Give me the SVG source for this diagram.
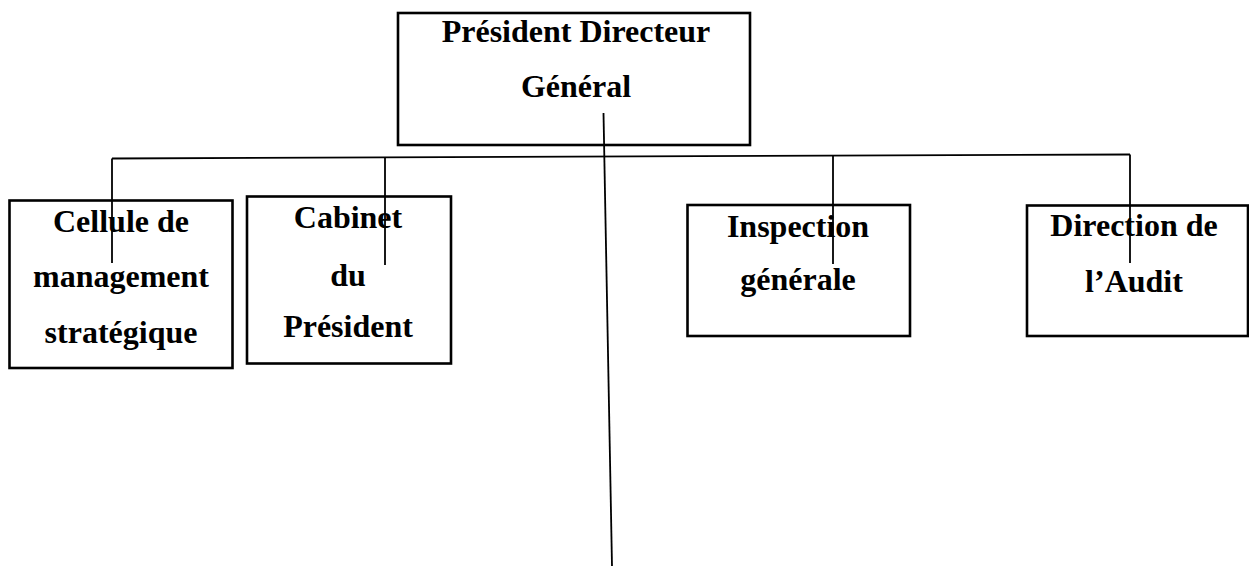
<svg xmlns="http://www.w3.org/2000/svg" width="1249" height="568" viewBox="0 0 1249 568">
  <style>
    .box { fill: #ffffff; stroke: #000000; stroke-width: 2.6; }
    .lbl { font-family: "Liberation Serif", "Times New Roman", serif; font-weight: bold; font-size: 32px; fill: #000000; text-anchor: middle; }
    .wire { fill: none; stroke: #000000; stroke-width: 1.8; }
  </style>
  <rect width="1249" height="568" fill="#ffffff"/>

  <g id="pdg">
    <rect class="box" x="398" y="13" width="352" height="132"/>
    <text class="lbl" x="576" y="42">Président Directeur</text>
    <text class="lbl" x="576" y="97">Général</text>
  </g>

  <g id="cellule">
    <rect class="box" x="9.5" y="200.5" width="223" height="167.5"/>
    <text class="lbl" x="121" y="232">Cellule de</text>
    <text class="lbl" x="121" y="287">management</text>
    <text class="lbl" x="121" y="343">stratégique</text>
  </g>

  <g id="cabinet">
    <rect class="box" x="247" y="196.5" width="204" height="167"/>
    <text class="lbl" x="348" y="227.5">Cabinet</text>
    <text class="lbl" x="348" y="285.5">du</text>
    <text class="lbl" x="348" y="337">Président</text>
  </g>

  <g id="inspection">
    <rect class="box" x="687.5" y="205" width="222.5" height="131"/>
    <text class="lbl" x="798" y="237">Inspection</text>
    <text class="lbl" x="798" y="290">générale</text>
  </g>

  <g id="audit">
    <rect class="box" x="1027" y="205.5" width="221" height="130.5"/>
    <text class="lbl" x="1134" y="236">Direction de</text>
    <text class="lbl" x="1134" y="292">l’Audit</text>
  </g>

  <g id="connectors">
    <!-- main trunk from the top box downward -->
    <line class="wire" x1="603.5" y1="113" x2="612" y2="566"/>
    <!-- horizontal bus -->
    <line class="wire" x1="112" y1="158.5" x2="1130" y2="154.5"/>
    <!-- drops to each unit -->
    <line class="wire" x1="112" y1="158.5" x2="112" y2="263"/>
    <line class="wire" x1="385" y1="157.5" x2="385" y2="265"/>
    <line class="wire" x1="833" y1="156" x2="833" y2="264"/>
    <line class="wire" x1="1130" y1="154.5" x2="1130" y2="263"/>
  </g>
</svg>
